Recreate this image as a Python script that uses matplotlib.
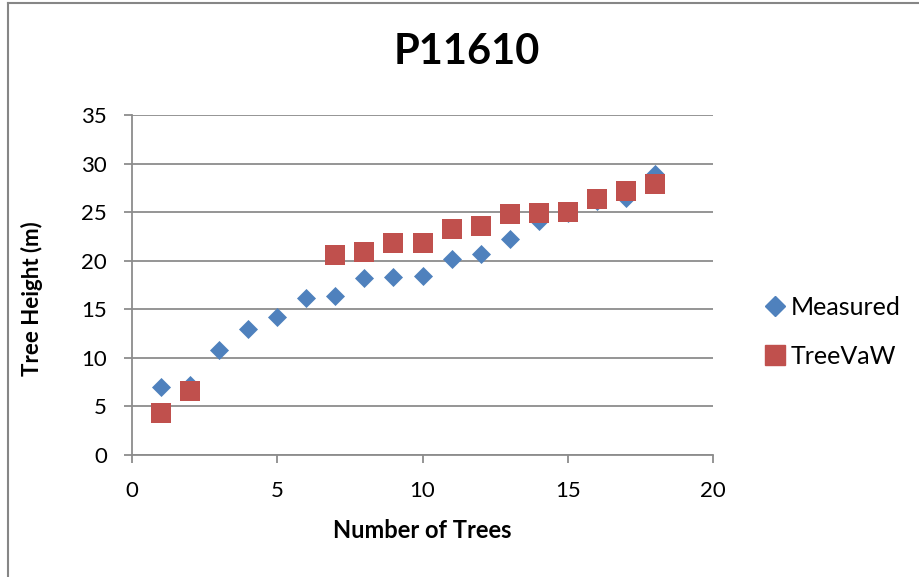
import matplotlib
matplotlib.use("Agg")
import matplotlib.pyplot as plt
from matplotlib.lines import Line2D

plt.rcParams['font.family'] = ['Lato', 'DejaVu Sans']

title = "P11610"
x_label = "Number of Trees"
y_label = "Tree Height (m)"

trees = list(range(1, 19))
measured = [7.0, 7.2, 10.8, 13.0, 14.2, 16.2, 16.4, 18.2, 18.3, 18.4,
            20.2, 20.7, 22.2, 24.1, 24.9, 26.2, 26.5, 28.9]
treevaw_x = [1, 2, 7, 8, 9, 10, 11, 12, 13, 14, 15, 16, 17, 18]
treevaw = [4.3, 6.6, 20.6, 20.9, 21.8, 21.85, 23.3, 23.6, 24.8, 24.9,
           25.0, 26.4, 27.2, 27.9]
series_names = ["Measured", "TreeVaW"]
colors = ["#4F81BD", "#C0504D"]

W, H = 919, 577
fig = plt.figure(figsize=(W/100, H/100), dpi=100)
ax = fig.add_axes([132/W, 1-455/H, (713-132)/W, (455-115.2)/H])

ax.scatter(trees, measured, marker='D', s=9.7**2, color=colors[0],
           label=series_names[0], zorder=3, linewidths=0)
ax.scatter(treevaw_x, treevaw, marker='s', s=14**2, color=colors[1],
           label=series_names[1], zorder=4, linewidths=0)

ax.set_xlim(0, 20)
ax.set_ylim(0, 35)
ax.set_xticks(range(0, 21, 5))
ax.set_yticks(range(0, 36, 5))
ax.grid(axis='y', color='#8c8c8c', linewidth=1.3)
ax.set_axisbelow(True)
for s in ['top', 'right']:
    ax.spines[s].set_visible(False)
for s in ['left', 'bottom']:
    ax.spines[s].set_color('#8c8c8c')
    ax.spines[s].set_linewidth(1.3)
ax.tick_params(axis='both', direction='out', length=6, width=1.3,
               color='#8c8c8c', labelsize=16, labelcolor='black')
ax.tick_params(axis='x', pad=13)
ax.tick_params(axis='y', pad=12)

fig.text(467/W, 1-52/H, title, fontsize=30, fontweight='bold',
         ha='center', va='center')
fig.text((132+713)/2/W, 1-530/H, x_label, fontsize=17, fontweight='bold',
         ha='center', va='center')
fig.text(32/W, 1-299/H, y_label, fontsize=16, fontweight='bold',
         ha='center', va='center', rotation=90)

handles = [Line2D([], [], marker='D', linestyle='none', color=colors[0], markersize=10),
           Line2D([], [], marker='s', linestyle='none', color=colors[1], markersize=14)]
fig.legend(handles, series_names, loc='center left',
           bbox_to_anchor=(737/W, 1-332/H), frameon=False, fontsize=18,
           handletextpad=0.05, labelspacing=1.05, handlelength=1.2)

# chart outer frame
fig.add_artist(Line2D([8/W, 8/W], [0, 1-3/H], transform=fig.transFigure,
                      color='#868686', linewidth=1.5))
fig.add_artist(Line2D([8/W, 1], [1-3/H, 1-3/H], transform=fig.transFigure,
                      color='#868686', linewidth=1.5))

fig.savefig("out.png", dpi=100)
